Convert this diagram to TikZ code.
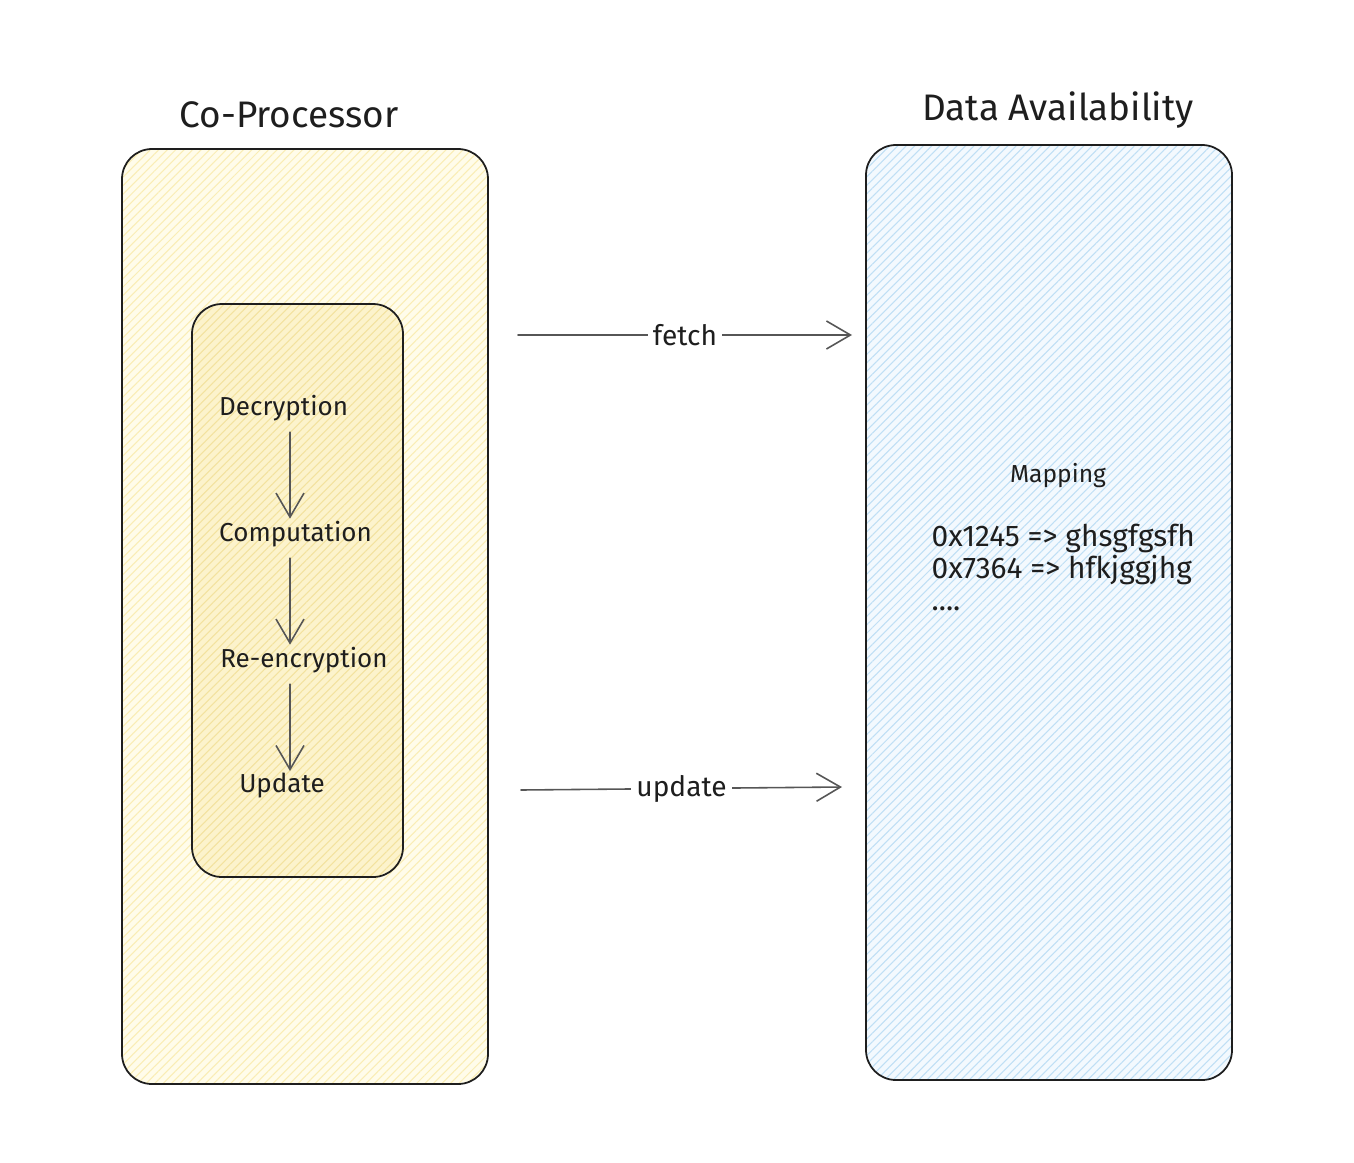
\documentclass[tikz,border=0pt]{standalone}
\usepackage{fontspec}
\setmainfont{Fira Sans}
\usepackage{tikz}
\usetikzlibrary{arrows.meta,patterns.meta}
\usepackage{xcolor}
\definecolor{cpfill}{HTML}{FFFCEA}
\definecolor{cphatch}{HTML}{FAEDB4}
\definecolor{stagefill}{HTML}{FCF3CC}
\definecolor{stagehatch}{HTML}{F3E29E}
\definecolor{dafill}{HTML}{F3F9FE}
\definecolor{dahatch}{HTML}{BFDFF5}
\definecolor{ink}{HTML}{1E1E1E}

\begin{document}
\begin{tikzpicture}[>={Straight Barb[length=2.4mm,width=2.8mm]},line cap=round,
  title/.style={font=\fontsize{10.5}{12}\selectfont,text=ink},
  stage/.style={font=\fontsize{7.4}{9}\selectfont,text=ink,anchor=west,inner sep=3pt},
  flowlabel/.style={font=\fontsize{8}{10}\selectfont,text=ink,fill=white,inner sep=1.5pt},
  panel/.style={draw=ink,line width=0.5pt,rounded corners=0.3cm},
  flow/.style={->,draw=ink!75,line width=0.45pt}]
\useasboundingbox (0,0) rectangle (13.54,11.62);
% panels
\fill[cpfill,rounded corners=0.3cm] (1.22,0.78) rectangle (4.88,10.13);
\fill[pattern={Lines[angle=45,distance=1.7pt,line width=0.3pt]},pattern color=cphatch,rounded corners=0.3cm] (1.22,0.78) rectangle (4.88,10.13);
\draw[panel] (1.22,0.78) rectangle (4.88,10.13);
\fill[stagefill,rounded corners=0.3cm] (1.92,2.85) rectangle (4.03,8.58);
\fill[pattern={Lines[angle=45,distance=1.7pt,line width=0.3pt]},pattern color=stagehatch,rounded corners=0.3cm] (1.92,2.85) rectangle (4.03,8.58);
\draw[panel] (1.92,2.85) rectangle (4.03,8.58);
\fill[dafill,rounded corners=0.3cm] (8.66,0.82) rectangle (12.32,10.17);
\fill[pattern={Lines[angle=45,distance=1.7pt,line width=0.3pt]},pattern color=dahatch,rounded corners=0.3cm] (8.66,0.82) rectangle (12.32,10.17);
\draw[panel] (8.66,0.82) rectangle (12.32,10.17);
% titles
\node[title] (cp) at (2.89,10.47) {Co-Processor};
\node[title] (da) at (10.58,10.52) {Data Availability};
% pipeline
\node[stage] (dec) at (2.08,7.54) {Decryption};
\node[stage] (comp) at (2.08,6.28) {Computation};
\node[stage] (reenc) at (2.09,5.02) {Re-encryption};
\node[stage] (upd) at (2.28,3.76) {Update};
\coordinate (spine) at (2.90,0);
\draw[flow,shorten >=-2.5pt] (dec.south -| spine) -- (comp.north -| spine);
\draw[flow,shorten >=-2.5pt] (comp.south -| spine) -- (reenc.north -| spine);
\draw[flow,shorten >=-2.5pt] (reenc.south -| spine) -- (upd.north -| spine);
% mapping
\node[font=\fontsize{7}{9}\selectfont,text=ink] (map) at (10.58,6.86) {Mapping};
\node[font=\fontsize{8.5}{9.2}\selectfont,text=ink,anchor=north west,align=left,inner sep=0pt] (entries) at (9.31,6.39)
  {0x1245 => ghsgfgsfh\\0x7364 => hfkjggjhg\\....};
% links
\coordinate (fetchL) at (5.18,8.27);
\coordinate (fetchR) at (8.52,8.27);
\coordinate (updL) at (5.21,3.72);
\coordinate (updR) at (8.42,3.75);
\draw[flow] (fetchL) -- node[flowlabel]{fetch} (fetchR);
\draw[flow] (updL) -- node[flowlabel]{update} (updR);
\end{tikzpicture}
\end{document}
